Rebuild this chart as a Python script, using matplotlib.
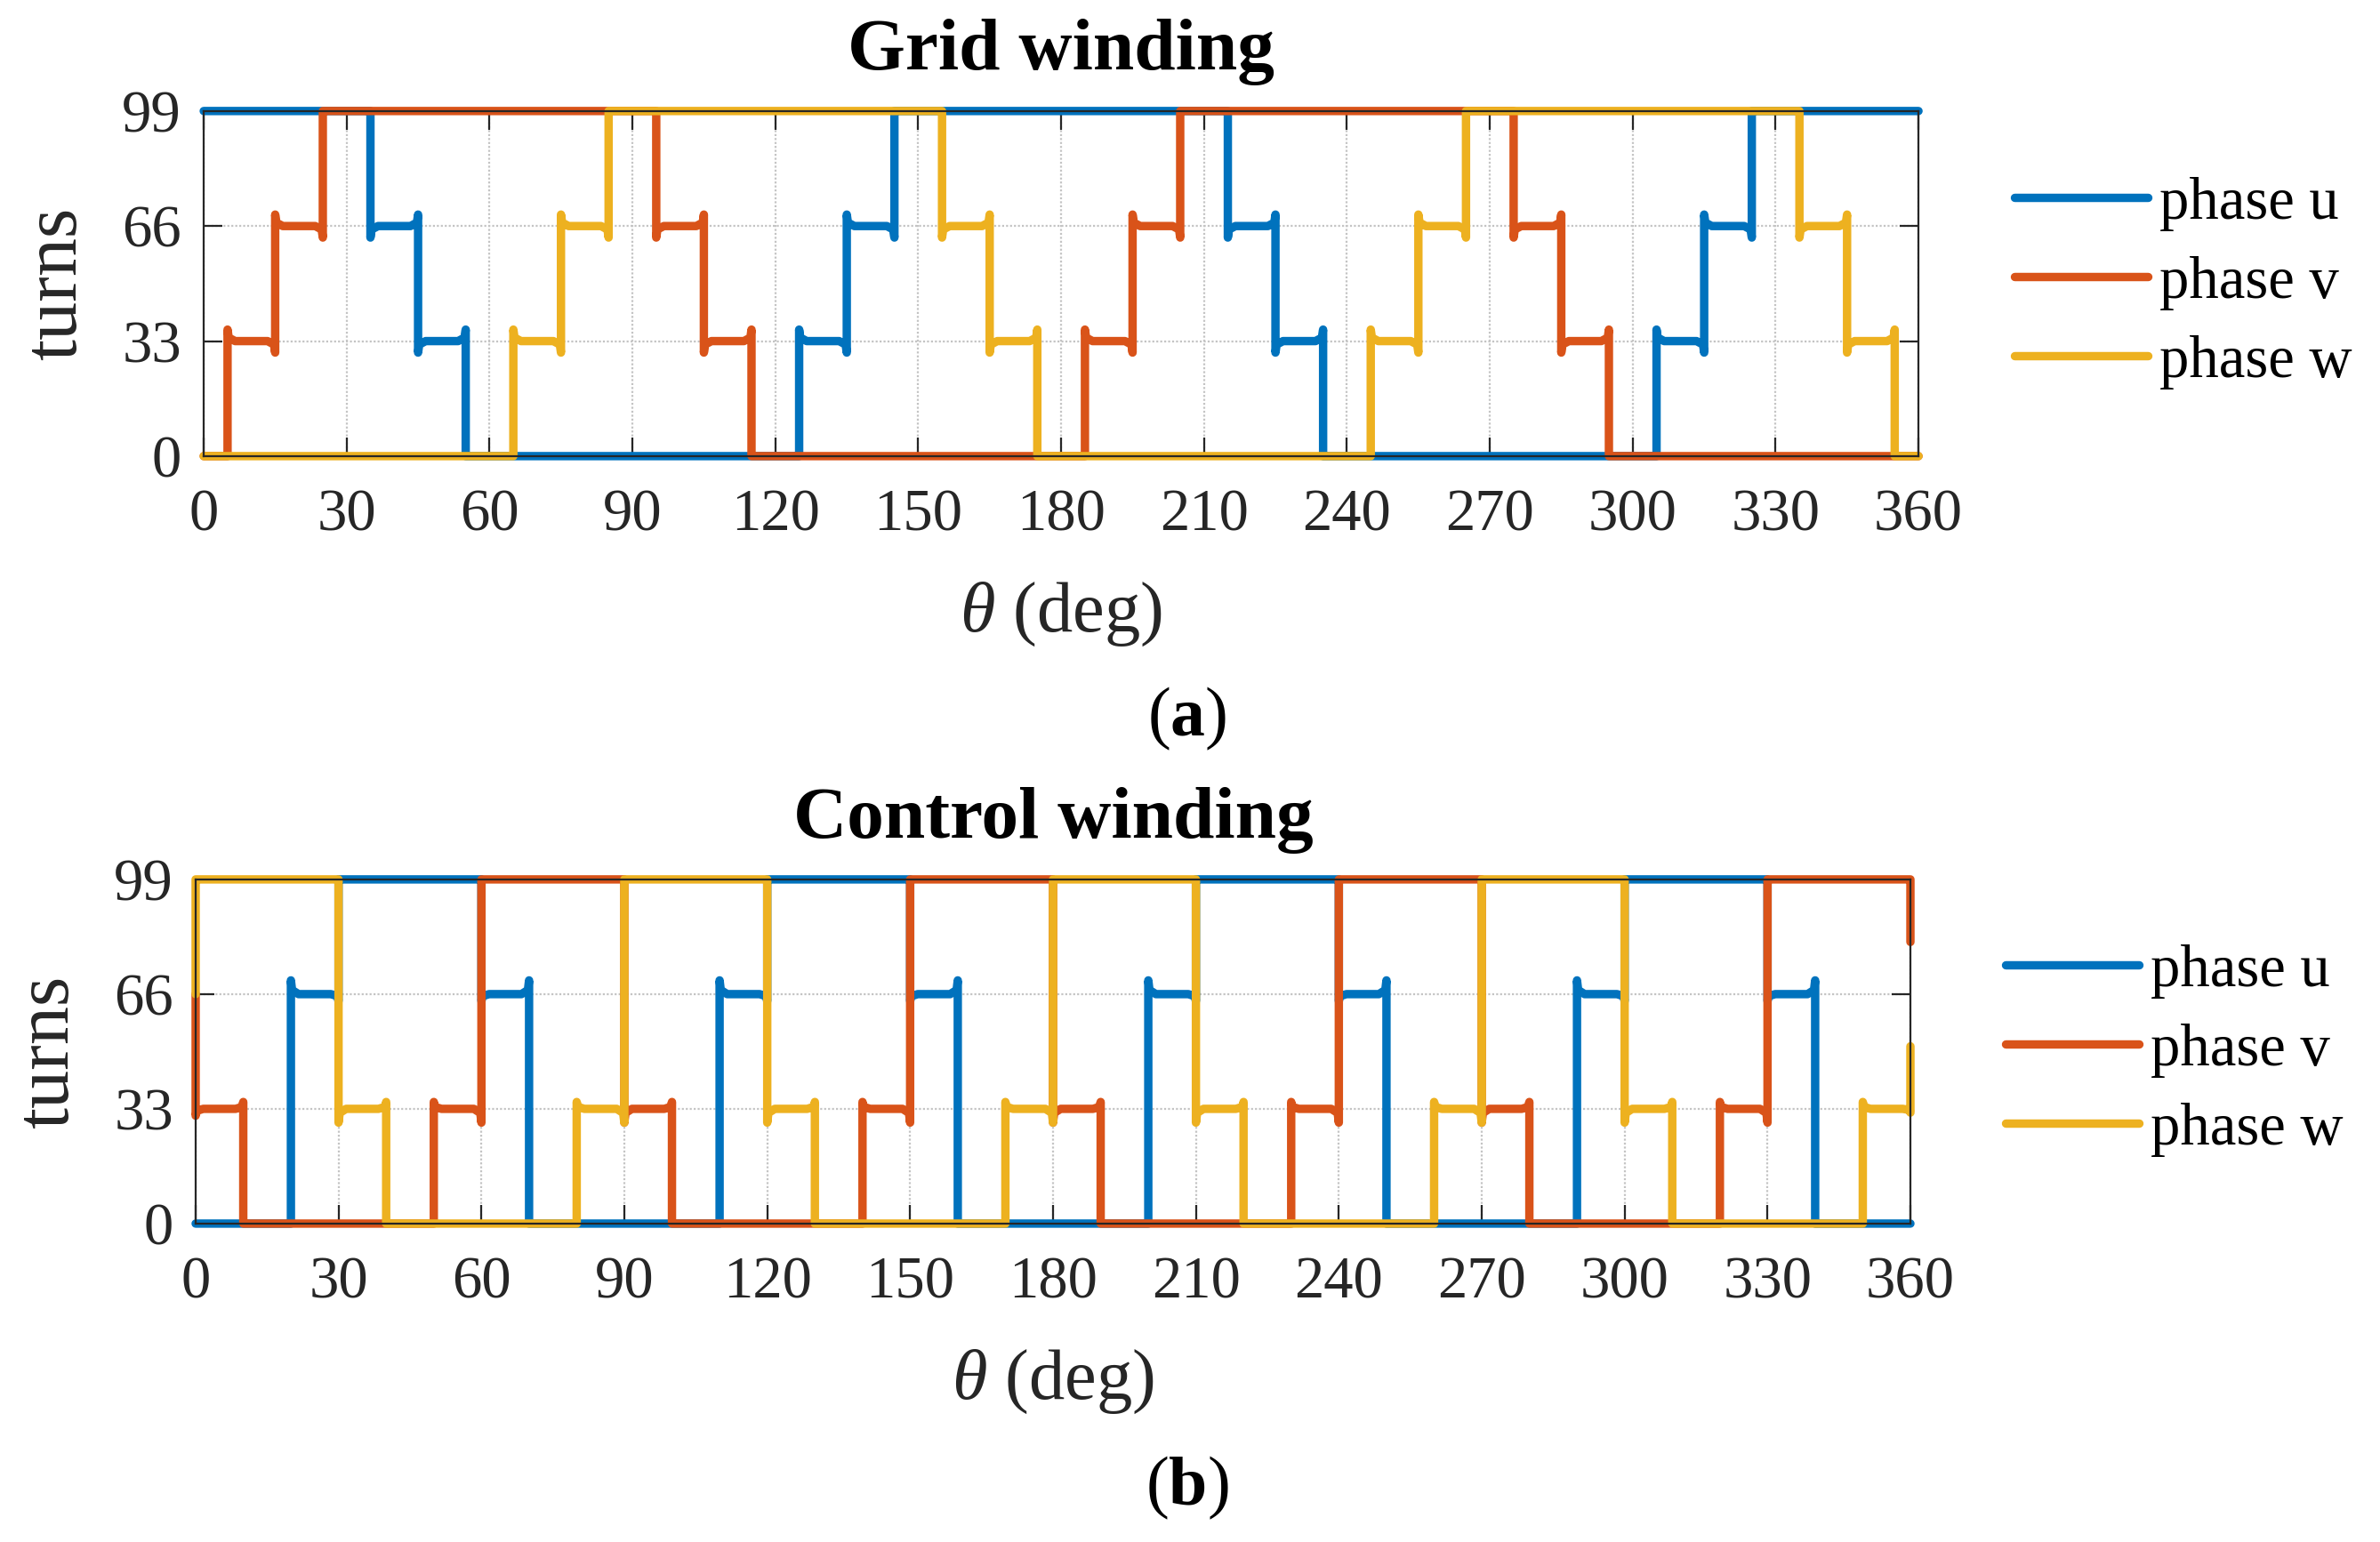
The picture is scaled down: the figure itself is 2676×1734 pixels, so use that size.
"""
Winding turn distribution of the grid and control windings (phases u, v, w).
"""

import numpy as np
import matplotlib
matplotlib.use("Agg")
import matplotlib.pyplot as plt

# ── data ────────────────────────────────────────────────────────────────────
ANGLE_TICKS = [0, 30, 60, 90, 120, 150, 180, 210, 240, 270, 300, 330, 360]
TURN_TICKS = [0, 33, 66, 99]
PHASES = ["phase u", "phase v", "phase w"]

# grid winding: step edges (deg) and turn level on each step
grid_u_edges = [0, 35, 45, 55, 125, 135, 145, 215, 225, 235, 305, 315, 325, 360]
grid_u_levels = [99, 66, 33, 0, 33, 66, 99, 66, 33, 0, 33, 66, 99]
grid_v_edges = [0, 5, 15, 25, 95, 105, 115, 185, 195, 205, 275, 285, 295, 360]
grid_v_levels = [0, 33, 66, 99, 66, 33, 0, 33, 66, 99, 66, 33, 0]
grid_w_edges = [0, 65, 75, 85, 155, 165, 175, 245, 255, 265, 335, 345, 355, 360]
grid_w_levels = [0, 33, 66, 99, 66, 33, 0, 33, 66, 99, 66, 33, 0]

# control winding
ctrl_u_edges = [0, 20, 30, 60, 70, 110, 120, 150, 160, 200, 210, 240, 250, 290, 300, 330, 340, 360]
ctrl_u_levels = [0, 66, 99, 66, 0, 66, 99, 66, 0, 66, 99, 66, 0, 66, 99, 66, 0]
ctrl_v_edges = [0, 10, 50, 60, 90, 100, 140, 150, 180, 190, 230, 240, 270, 280, 320, 330, 360]
ctrl_v_levels = [33, 0, 33, 99, 33, 0, 33, 99, 33, 0, 33, 99, 33, 0, 33, 99]
ctrl_w_edges = [0, 30, 40, 80, 90, 120, 130, 170, 180, 210, 220, 260, 270, 300, 310, 350, 360]
ctrl_w_levels = [99, 33, 0, 33, 99, 33, 0, 33, 99, 33, 0, 33, 99, 33, 0, 33]
# first / last samples of the control traces (partial steps at 0 and 360 deg)
ctrl_start = [0, 66, 66]
ctrl_end = [0, 81, 51]

COLORS = ["#0072BD", "#D95319", "#EDB120"]
RING_GRID = 0.10   # relative overshoot at each step edge
RING_CTRL = 0.06
LW = 3.4

plt.rcParams["font.family"] = ["Liberation Serif", "DejaVu Serif"]
plt.rcParams["mathtext.fontset"] = "custom"
plt.rcParams["mathtext.rm"] = "Liberation Serif"
plt.rcParams["mathtext.it"] = "Liberation Serif:italic"
plt.rcParams["mathtext.bf"] = "Liberation Serif:bold"


def step_trace(edges, levels, k, start=None, end=None, w=1.6):
    """Turn a list of steps into a line with small overshoot horns at the edges."""
    xs, ys = [], []
    n = len(levels)
    if start is not None:
        xs.append(edges[0])
        ys.append(start)
    for i, lev in enumerate(levels):
        a, b = edges[i], edges[i + 1]
        if i > 0:
            ol = k * (lev - levels[i - 1])
        elif start is not None:
            ol = k * (lev - start)
        else:
            ol = 0.0
        if i < n - 1:
            orr = k * (lev - levels[i + 1])
        elif end is not None:
            orr = k * (lev - end)
        else:
            orr = 0.0
        xs += [a, a + 0.15 * w, a + w, b - w, b - 0.15 * w, b]
        ys += [lev + ol, lev + 0.3 * ol, lev, lev, lev + 0.3 * orr, lev + orr]
    if end is not None:
        xs.append(edges[-1])
        ys.append(end)
    return np.array(xs), np.clip(ys, 0, 99)


def style_axes(ax):
    ax.set_xlim(0, 360)
    ax.set_ylim(0, 99)
    ax.set_xticks(ANGLE_TICKS)
    ax.set_yticks(TURN_TICKS)
    ax.grid(True, color="#c4c4c4", linestyle=(0, (1, 1)), linewidth=0.8)
    ax.set_axisbelow(True)
    ax.tick_params(direction="in", length=7.5, width=0.8, colors="#262626",
                   labelsize=24, top=True, right=True)
    ax.tick_params(axis="x", pad=13)
    ax.tick_params(axis="y", pad=9)
    for sp in ax.spines.values():
        sp.set_color("#262626")
        sp.set_linewidth(0.8)
    ax.set_xlabel(r"$\theta$ (deg)", fontsize=29, color="#262626")
    ax.set_ylabel("turns", fontsize=31, color="#262626")
    ax.xaxis.set_label_coords(0.5, -0.36)
    ax.yaxis.set_label_coords(-0.065, 0.5)


fig = plt.figure(figsize=(13.38, 8.67), dpi=200)
ax1 = fig.add_axes([0.0856, 0.7042, 0.7205, 0.2238])
ax2 = fig.add_axes([0.0822, 0.2065, 0.7205, 0.2232])

legend_kw = dict(bbox_transform=fig.transFigure, loc="center left",
                 frameon=False, fontsize=24, handlelength=2.25,
                 handletextpad=0.2, labelspacing=0.42, borderpad=0,
                 borderaxespad=0)

# ── (a) Grid winding ────────────────────────────────────────────────────────
grid = [(grid_u_edges, grid_u_levels), (grid_v_edges, grid_v_levels),
        (grid_w_edges, grid_w_levels)]
for (edges, levels), color, label in zip(grid, COLORS, PHASES):
    x, y = step_trace(edges, levels, RING_GRID)
    ax1.plot(x, y, color=color, linewidth=LW, label=label, clip_on=False,
             solid_joinstyle="round", solid_capstyle="round")
style_axes(ax1)
ax1.set_title("Grid winding", fontsize=30, fontweight="bold", pad=17)
ax1.legend(bbox_to_anchor=(0.8464, 0.8166), **legend_kw)

# ── (b) Control winding ─────────────────────────────────────────────────────
ctrl = [(ctrl_u_edges, ctrl_u_levels), (ctrl_v_edges, ctrl_v_levels),
        (ctrl_w_edges, ctrl_w_levels)]
for (edges, levels), s, e, color, label in zip(ctrl, ctrl_start, ctrl_end, COLORS, PHASES):
    x, y = step_trace(edges, levels, RING_CTRL, start=s, end=e)
    ax2.plot(x, y, color=color, linewidth=LW, label=label, clip_on=False,
             solid_joinstyle="round", solid_capstyle="round")
style_axes(ax2)
ax2.set_title("Control winding", fontsize=30, fontweight="bold", pad=17)
ax2.legend(bbox_to_anchor=(0.8427, 0.3189), **legend_kw)

fig.text(0.4989, 0.5340, r"($\mathbf{a}$)", fontsize=28, ha="center", va="center")
fig.text(0.4989, 0.0350, r"($\mathbf{b}$)", fontsize=28, ha="center", va="center")

fig.savefig("out.png", dpi=200)
